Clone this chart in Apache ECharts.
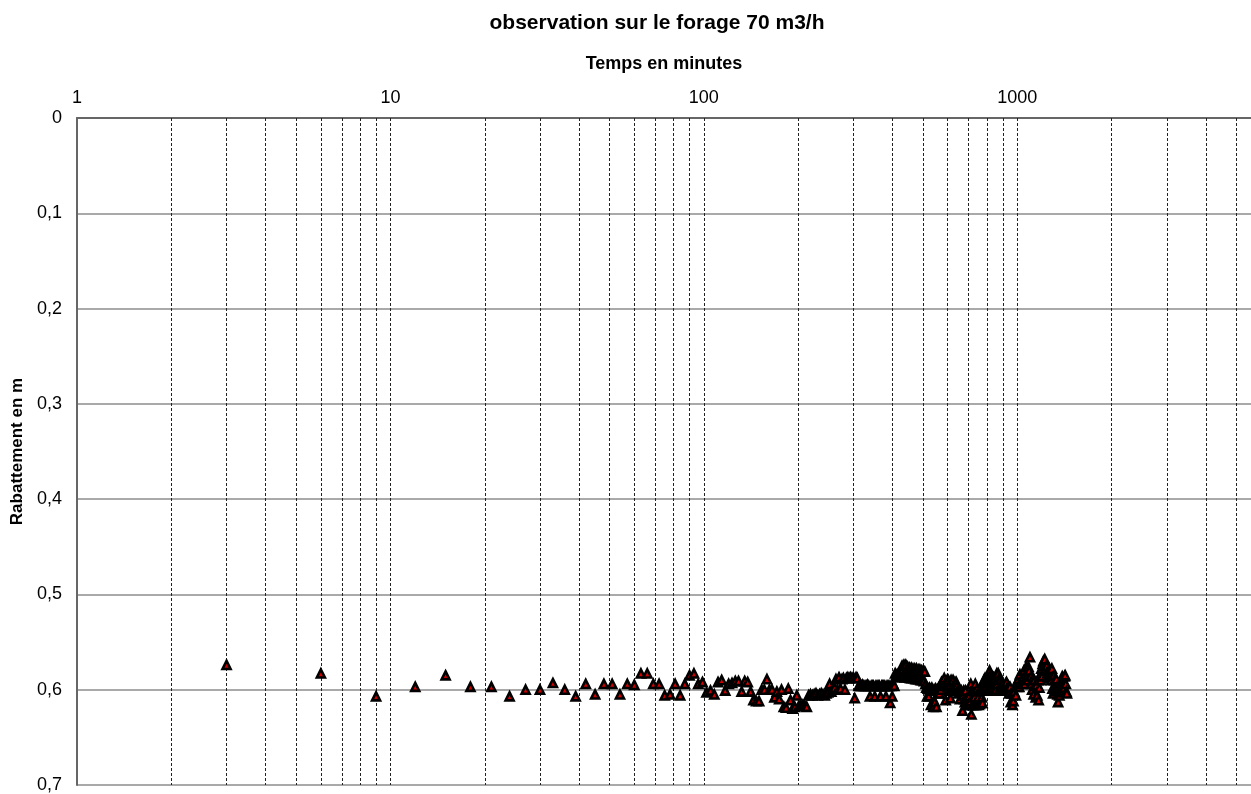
<!DOCTYPE html>
<html><head><meta charset="utf-8">
<script src="https://cdn.jsdelivr.net/npm/echarts@6/dist/echarts.min.js"></script>
<style>html,body{margin:0;padding:0;background:#fff;overflow:hidden}#c{width:1251px;height:794px}</style>
</head><body><div id="c"></div>
<script>
const chartTitle = 'observation sur le forage 70 m3/h';
const xAxisTitle = 'Temps en minutes';
const yAxisTitle = 'Rabattement en m';
const yTickValues = [0, 0.1, 0.2, 0.3, 0.4, 0.5, 0.6, 0.7];
const xMin = 1;
const xMax = 5570;
// vertical grid lines of the log axis (minutes)
const gridTimes = [2,3,4,5,6,7,8,9,10,20,30,40,50,60,70,80,90,100,200,300,400,500,600,700,800,900,1000,2000,3000,4000,5000];

// observations [time in minutes, drawdown in m]
const obsEarly = [
[3,0.574],[6,0.583],[9,0.607],[12,0.597],[15,0.585],[18,0.597],[21,0.597],[24,0.607],[27,0.600],[30,0.600],
[33,0.593],[36,0.600],[39,0.607],[42,0.594],[45,0.605],[48,0.594],[51,0.594],[54,0.605],[57,0.594],[60,0.595],
[63,0.583],[66,0.583],[69,0.594],[72,0.594],[75,0.606],[78,0.605],[81,0.594],[84,0.606],[87,0.594],[90,0.585],
[93,0.583],[96,0.594],[99,0.592],[102,0.603],[105,0.601],[108,0.605],[111,0.592],[114,0.590],[117,0.601],[120,0.594],
[123,0.593],[126,0.591],[129,0.591],[132,0.602],[135,0.591],[138,0.592],[141,0.602],[144,0.611],[147,0.612],[150,0.612]
];
const obsMid = [
[153,0.600],[156,0.600],[159,0.589],[162,0.600],[165,0.600],[168,0.608],[171,0.602],[174,0.610],[177,0.600],[180,0.618],
[183,0.619],[186,0.599],[189,0.611],[192,0.620],[195,0.618],[198,0.606],[201,0.617],[204,0.617],[207,0.616],[210,0.617],
[213,0.618],[216,0.606],[219,0.605],[222,0.606],[225,0.605],[228,0.604],[231,0.606],[234,0.605],[237,0.604],[240,0.605],
[243,0.606],[246,0.604],[249,0.603],[252,0.594],[255,0.602],[258,0.600],[261,0.598],[264,0.589],[267,0.600],[270,0.587],
[273,0.599],[276,0.589],[279,0.588],[282,0.600],[285,0.588],[288,0.587],[291,0.588],[294,0.587],[297,0.588],[300,0.587],
[303,0.609],[306,0.587],[309,0.588],[312,0.596],[315,0.596],[318,0.596],[321,0.595],[324,0.596],[327,0.596],[330,0.596],
[333,0.595],[336,0.596],[339,0.607],[342,0.596],[345,0.596],[348,0.596],[351,0.607],[354,0.596],[357,0.596],[360,0.596],
[363,0.596],[366,0.607],[369,0.596],[372,0.596],[375,0.596],[378,0.596],[381,0.607],[384,0.596],[387,0.596],[390,0.596],
[393,0.614],[396,0.596],[399,0.607],[402,0.594],[405,0.596],[408,0.583],[411,0.585],[414,0.584],[417,0.586],[420,0.583],
[423,0.586],[426,0.587],[429,0.575],[432,0.586],[435,0.574],[438,0.587],[441,0.574],[444,0.586],[447,0.576],[450,0.587],
[453,0.577],[456,0.588],[459,0.577],[462,0.588],[465,0.578],[468,0.588],[471,0.578],[474,0.589],[477,0.578],[480,0.589],
[483,0.579],[486,0.589],[489,0.579],[492,0.590],[495,0.580],[498,0.590],[501,0.580],[504,0.591],[507,0.581]
];
const obsLate = [
[510,0.594],[513,0.598],[516,0.607],[519,0.599],[522,0.607],[525,0.598],[528,0.600],[531,0.616],[534,0.598],[537,0.601],
[540,0.618],[543,0.600],[546,0.613],[549,0.599],[552,0.618],[555,0.600],[558,0.604],[561,0.598],[564,0.604],[567,0.596],
[570,0.600],[573,0.592],[576,0.596],[579,0.594],[582,0.596],[585,0.588],[588,0.594],[591,0.611],[594,0.592],[597,0.590],
[600,0.596],[603,0.590],[606,0.601],[609,0.596],[612,0.609],[615,0.590],[618,0.600],[621,0.596],[624,0.590],[627,0.601],
[630,0.596],[633,0.592],[636,0.601],[639,0.592],[642,0.596],[645,0.601],[648,0.604],[651,0.600],[654,0.601],[657,0.610],
[660,0.602],[663,0.601],[666,0.603],[669,0.622],[672,0.606],[675,0.601],[678,0.610],[681,0.613],[684,0.601],[687,0.616],
[690,0.613],[693,0.608],[696,0.616],[699,0.610],[702,0.607],[705,0.616],[708,0.612],[711,0.594],[714,0.626],[717,0.601],
[720,0.616],[723,0.616],[726,0.601],[729,0.608],[732,0.616],[735,0.594],[738,0.616],[741,0.616],[744,0.599],[747,0.614],
[750,0.608],[753,0.616],[756,0.601],[759,0.615],[762,0.599],[765,0.614],[768,0.601],[771,0.608],[774,0.614],[777,0.601],
[780,0.599],[783,0.590],[786,0.599],[789,0.588],[792,0.599],[795,0.590],[798,0.588],[801,0.601],[804,0.588],[807,0.590],
[810,0.586],[813,0.601],[816,0.580],[819,0.588],[822,0.584],[825,0.590],[828,0.600],[831,0.586],[834,0.588],[837,0.594],
[840,0.587],[843,0.600],[846,0.588],[849,0.590],[852,0.592],[855,0.600],[858,0.587],[861,0.583],[864,0.594],[867,0.589],
[870,0.583],[873,0.601],[876,0.588],[879,0.589],[882,0.590],[885,0.597],[888,0.594],[891,0.601],[894,0.592],[897,0.599],
[900,0.594],[906,0.599],[912,0.601],[918,0.594],[924,0.592],[930,0.599],[936,0.596],[942,0.604],[948,0.597],[954,0.613],
[960,0.604],[966,0.616],[972,0.612],[978,0.602],[984,0.596],[990,0.606],[996,0.593],[1002,0.597],[1008,0.589],[1014,0.597],
[1020,0.584],[1026,0.592],[1032,0.589],[1038,0.594],[1044,0.587],[1050,0.580],[1056,0.594],[1062,0.584],[1068,0.576],[1074,0.586],
[1080,0.590],[1086,0.576],[1092,0.580],[1098,0.566],[1104,0.586],[1110,0.594],[1116,0.600],[1122,0.588],[1128,0.605],[1134,0.590],
[1140,0.596],[1146,0.608],[1152,0.595],[1158,0.606],[1164,0.590],[1170,0.611],[1176,0.598],[1182,0.585],[1188,0.590],[1194,0.578],
[1200,0.586],[1206,0.573],[1212,0.570],[1218,0.575],[1224,0.568],[1230,0.578],[1236,0.575],[1242,0.575],[1248,0.583],[1254,0.580],
[1260,0.586],[1266,0.578],[1272,0.588],[1278,0.580],[1284,0.590],[1290,0.578],[1296,0.599],[1302,0.604],[1308,0.585],[1314,0.590],
[1320,0.599],[1326,0.601],[1332,0.589],[1338,0.600],[1344,0.605],[1350,0.613],[1356,0.601],[1362,0.606],[1368,0.599],[1374,0.601],
[1380,0.603],[1386,0.594],[1392,0.586],[1398,0.596],[1404,0.601],[1410,0.598],[1416,0.586],[1422,0.585],[1428,0.594],[1434,0.602],
[1440,0.604]
];

const observations = obsEarly.concat(obsMid, obsLate);
const FONT = '"Liberation Sans", Arial, sans-serif';

const chart = echarts.init(document.getElementById('c'), null, {renderer: 'canvas'});
chart.setOption({
  animation: false,
  backgroundColor: '#ffffff',
  title: {
    text: chartTitle, left: 652, top: 8, textAlign: 'center',
    textStyle: {fontFamily: FONT, fontSize: 21, fontWeight: 'bold', color: '#000'}
  },
  grid: {left: 77, top: 118, right: 0, bottom: 6, containLabel: false},
  xAxis: {
    type: 'log', logBase: 10, min: xMin, max: xMax, position: 'top',
    name: xAxisTitle, nameLocation: 'middle', nameGap: 45,
    nameTextStyle: {fontFamily: FONT, fontSize: 18, fontWeight: 'bold', color: '#000'},
    axisLine: {show: true, lineStyle: {color: '#666', width: 2}},
    axisTick: {show: false},
    axisLabel: {fontFamily: FONT, fontSize: 18, color: '#000', margin: 11, showMaxLabel: false, showMinLabel: true,
      formatter: v => String(Math.round(v))},
    splitLine: {show: false}
  },
  yAxis: {
    type: 'value', inverse: true, min: yTickValues[0], max: yTickValues[yTickValues.length - 1], interval: 0.1,
    name: yAxisTitle, nameLocation: 'middle', nameGap: 34,
    nameTextStyle: {fontFamily: FONT, fontSize: 17, fontWeight: 'bold', color: '#000'},
    axisLine: {show: true, lineStyle: {color: '#666', width: 2}},
    axisTick: {show: false},
    axisLabel: {fontFamily: FONT, fontSize: 18, color: '#000', margin: 15,
      formatter: v => (Math.abs(v) < 1e-9 ? '0' : v.toFixed(1).replace('.', ','))},
    splitLine: {show: true, lineStyle: {color: '#8c8c8c', width: 1.5}}
  },
  series: [
    {
      type: 'line', data: [], silent: true, z: 1,
      markLine: {
        silent: true, symbol: 'none', animation: false,
        label: {show: false},
        lineStyle: {type: [3, 2], color: '#222', width: 1},
        emphasis: {disabled: true},
        data: gridTimes.map(t => ({xAxis: t}))
      }
    },
    {
      type: 'scatter', z: 5,
      symbol: 'triangle', symbolSize: 8,
      itemStyle: {color: '#d00000', borderColor: '#000', borderWidth: 2.6, opacity: 1},
      data: observations
    }
  ]
});
</script>
</body></html>
